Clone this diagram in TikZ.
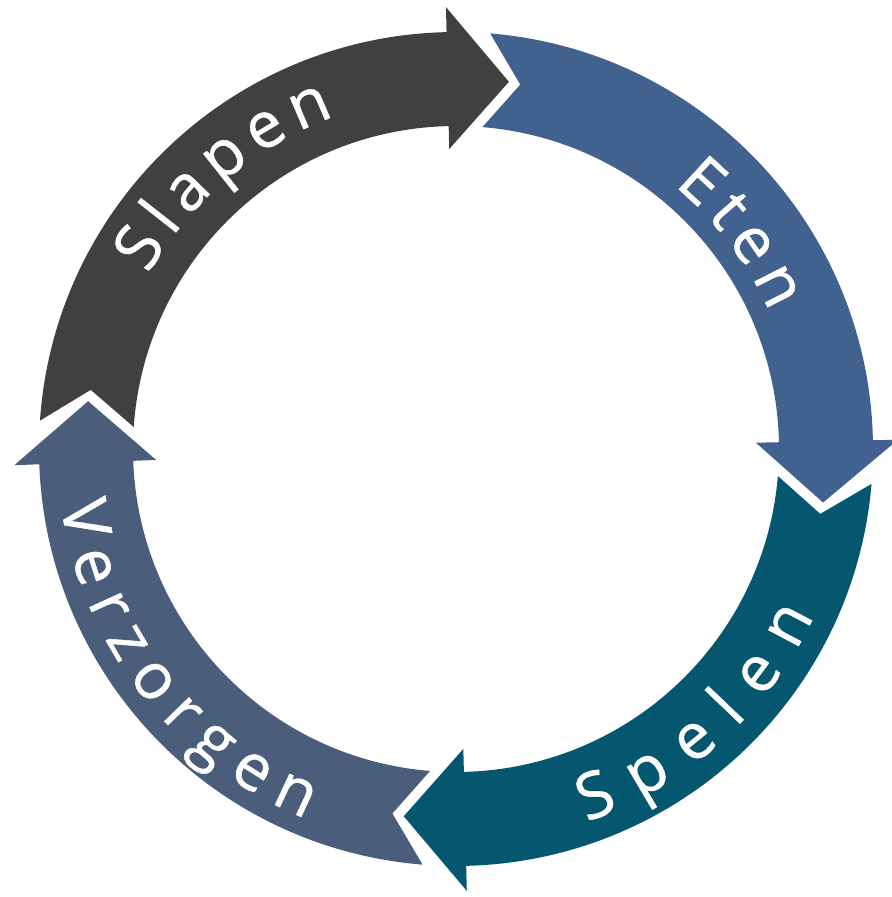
\documentclass[tikz,border=0pt]{standalone}
\usepackage{fontspec}
\setmainfont{Open Sans}[FakeBold=0.8]
\usepackage{xcolor}
\usepackage{tikz}
\usetikzlibrary{decorations.text}
\definecolor{sleep}{HTML}{404040}
\definecolor{eat}{HTML}{41618E}
\definecolor{play}{HTML}{04576F}
\definecolor{care}{HTML}{4A5E7C}

\newcommand\lblfont{\fontsize{32}{32}\selectfont\color{white}}
% curved arrow: #1 colour, #2 tail angle, #3 tip angle (clockwise)
\newcommand\cyclearrow[3]{%
  \fill[#1] (#2:417) -- (#2-5.3:370) -- (#2:323)
    arc[start angle=#2,end angle=#3+9.5,radius=323]
    -- (#3+9.5:300) -- (#3:371) -- (#3+9.5:442) -- (#3+9.5:417)
    arc[start angle=#3+9.5,end angle=#2,radius=417] -- cycle;}

\begin{document}
\begin{tikzpicture}[
  x=0.5pt,y=0.5pt,
  lbl/.style={decorate,decoration={text along path,text={|\lblfont|#1},
              text align=fit to path}}
]
\useasboundingbox (-456,-448) rectangle (435,449);
\cyclearrow{sleep}{176.1}{81.8}
\cyclearrow{eat}{85.3}{-8.3}
\cyclearrow{play}{-4.8}{-98.1}
\cyclearrow{care}{265.4}{172.6}
% clockwise on top, anticlockwise at the bottom
\path[lbl=Slapen] (150.4:354) arc[start angle=150.4,end angle=110,radius=354];
\path[lbl=Eten] (50.4:342) arc[start angle=50.4,end angle=23.6,radius=342];
\path[lbl=Spelen] (-70.7:395) arc[start angle=-70.7,end angle=-25,radius=395];
\path[lbl=Verzorgen] (187.9:399) arc[start angle=187.9,end angle=247.9,radius=399];
\end{tikzpicture}
\end{document}
